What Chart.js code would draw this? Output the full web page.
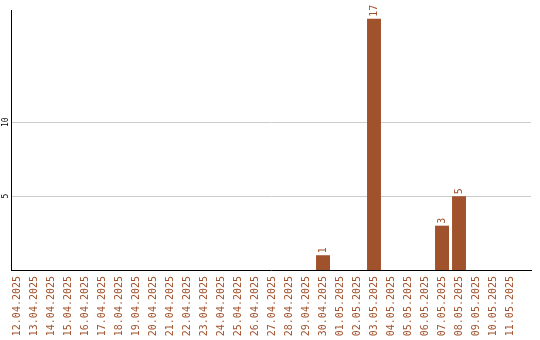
<!DOCTYPE html>
<html>
<head>
<meta charset="utf-8">
<script src="https://cdn.jsdelivr.net/npm/chart.js@4/dist/chart.umd.min.js"></script>
<style>
  html, body { margin: 0; padding: 0; background: #fff; }
  #wrap { width: 540px; height: 340px; position: relative; }
</style>
</head>
<body>
<div id="wrap"><canvas id="c"></canvas></div>
<script>
const labels = [
  '12.04.2025','13.04.2025','14.04.2025','15.04.2025','16.04.2025','17.04.2025',
  '18.04.2025','19.04.2025','20.04.2025','21.04.2025','22.04.2025','23.04.2025',
  '24.04.2025','25.04.2025','26.04.2025','27.04.2025','28.04.2025','29.04.2025',
  '30.04.2025','01.05.2025','02.05.2025','03.05.2025','04.05.2025','05.05.2025',
  '06.05.2025','07.05.2025','08.05.2025','09.05.2025','10.05.2025','11.05.2025'
];
const values = [
  0,0,0,0,0,0,
  0,0,0,0,0,0,
  0,0,0,0,0,0,
  1,0,0,17,0,0,
  0,3,5,0,0,0
];
const yTicks = [5, 10];

const BROWN = '#a0522d';
const MONO = '"DejaVu Sans Mono", "Liberation Mono", monospace';

const valueLabels = {
  id: 'valueLabels',
  afterDatasetsDraw(chart) {
    const ctx = chart.ctx;
    const meta = chart.getDatasetMeta(0);
    meta.data.forEach((bar, i) => {
      const v = values[i];
      if (!v) return;
      ctx.save();
      ctx.translate(bar.x, bar.y - 2);
      ctx.rotate(-Math.PI / 2);
      ctx.textAlign = 'left';
      ctx.textBaseline = 'middle';
      ctx.fillStyle = BROWN;
      ctx.font = '10px ' + MONO;
      ctx.fillText(String(v), 0, 0);
      ctx.restore();
    });
  }
};

new Chart(document.getElementById('c'), {
  type: 'bar',
  data: {
    datasets: [{
      data: values.map((v, i) => ({ x: i, y: v })),
      backgroundColor: BROWN,
      borderWidth: 0,
      barPercentage: 0.82,
      categoryPercentage: 1.0
    }]
  },
  options: {
    responsive: true,
    maintainAspectRatio: false,
    animation: false,
    layout: { padding: { top: 10, right: 9, left: 0, bottom: 0 } },
    plugins: { legend: { display: false }, tooltip: { enabled: false } },
    scales: {
      x: {
        type: 'linear',
        offset: false,
        min: -0.353,
        max: 30.235,
        afterBuildTicks(scale) { scale.ticks = labels.map((_, i) => ({ value: i })); },
        afterFit(scale) { scale.height = 70; },
        grid: { color: 'rgba(0,0,0,0)', drawTicks: false },
        border: { display: true, color: '#000', width: 1 },
        ticks: {
          autoSkip: false,
          minRotation: 90,
          maxRotation: 90,
          padding: 6,
          color: BROWN,
          font: { family: MONO, size: 10 },
          callback: (v) => labels[v]
        }
      },
      y: {
        min: 0,
        max: 17.6,
        afterBuildTicks(scale) { scale.ticks = yTicks.map(v => ({ value: v })); },
        afterFit(scale) { scale.width = 11; },
        grid: { color: '#cccccc', drawTicks: false },
        border: { display: true, color: '#000', width: 1 },
        ticks: {
          minRotation: 90,
          maxRotation: 90,
          crossAlign: 'center',
          padding: 0,
          color: '#000',
          font: { family: MONO, size: 8 }
        }
      }
    }
  },
  plugins: [valueLabels]
});
</script>
</body>
</html>
